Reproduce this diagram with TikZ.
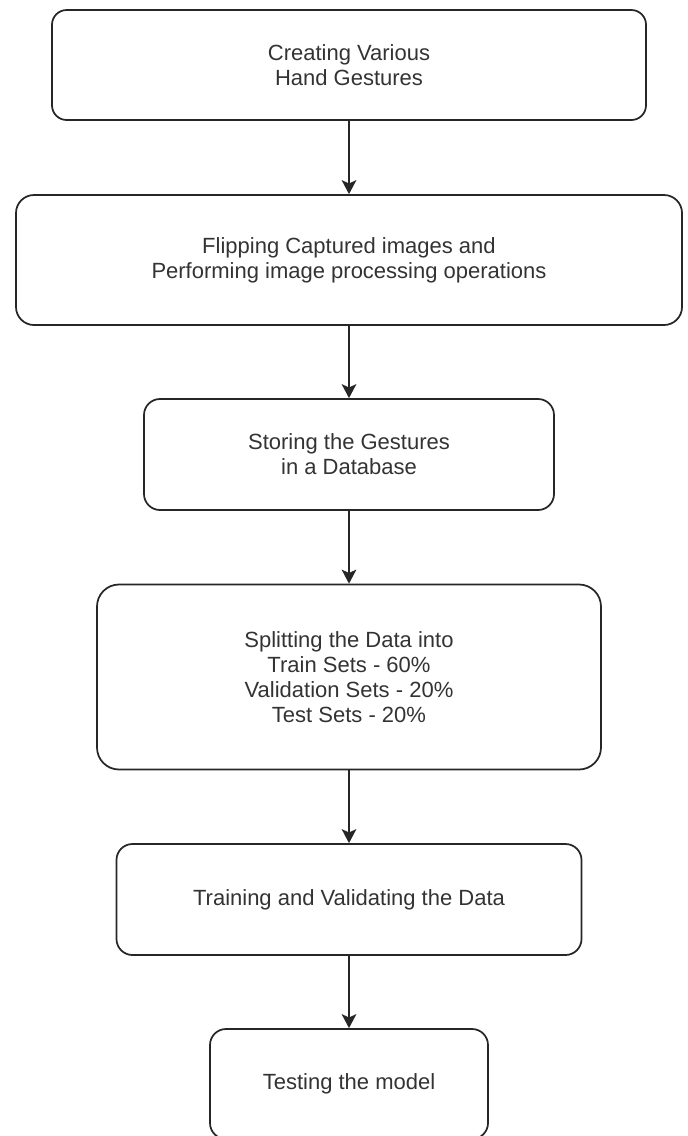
\documentclass[tikz,border=0pt]{standalone}
\usepackage{fontspec}
\setmainfont{Liberation Sans}
\usepackage{tikz}
\usetikzlibrary{positioning, arrows.meta}

\begin{document}
\begin{tikzpicture}[x=0.75pt, y=-0.75pt,
  stage/.style={rectangle, draw=black!85, line width=1.3pt, align=center,
    text=black!80, font=\fontsize{16.5}{18.8}\selectfont},
  flow/.style={-{Stealth[length=10.5pt, width=11pt, inset=2.5pt]}, draw=black!85, line width=1.2pt}]
\useasboundingbox (0,0) rectangle (688,1136);

% Gesture capture
\node[stage, rounded corners=11pt, minimum width=445.5pt, minimum height=82.5pt] (create) at (349,65) {Creating Various\\Hand Gestures};

\node[stage, rounded corners=13.5pt, minimum width=499.5pt, minimum height=97.5pt] (flip) at (349,260) {Flipping Captured images and\\Performing image processing operations};

\node[stage, rounded corners=12pt, minimum width=307.5pt, minimum height=83.25pt] (store) at (349,454.5) {Storing the Gestures\\in a Database};

% Data split and model
\node[stage, rounded corners=16.5pt, minimum width=378pt, minimum height=138.75pt] (split) at (349,677) {Splitting the Data into\\Train Sets - 60\%\\Validation Sets - 20\%\\Test Sets - 20\%};

\node[stage, rounded corners=12pt, minimum width=348.75pt, minimum height=83.25pt] (train) at (349,899.5) {Training and Validating the Data};

\node[stage, rounded corners=12pt, minimum width=208.5pt, minimum height=82.5pt] (test) at (349,1084) {Testing the model};

\draw[flow] (create) -- (flip);
\draw[flow] (flip) -- (store);
\draw[flow] (store) -- (split);
\draw[flow] (split) -- (train);
\draw[flow] (train) -- (test);

\end{tikzpicture}
\end{document}
